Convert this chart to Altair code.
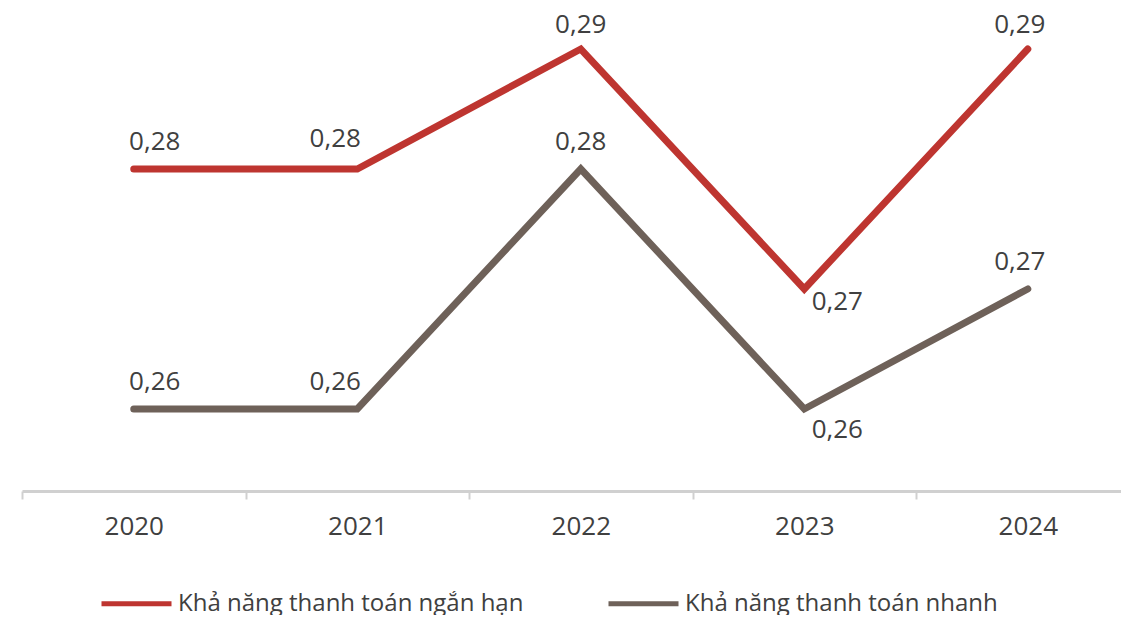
import altair as alt
import pandas as pd

# ---- data ----
years = [2020, 2021, 2022, 2023, 2024]
series_names = ["Khả năng thanh toán ngắn hạn", "Khả năng thanh toán nhanh"]
short_term = [0.28, 0.28, 0.29, 0.27, 0.29]
quick = [0.26, 0.26, 0.28, 0.26, 0.27]
colors = ["#BE3530", "#6E6159"]

df = pd.DataFrame({
    "year": years * 2,
    "series": [series_names[0]] * len(years) + [series_names[1]] * len(years),
    "value": short_term + quick,
})

# ---- layout ----
W, H = 1099, 471
x_dom = [2019.5, 2024.417]
y_dom = [0.253167, 0.292417]
px_x = W / (x_dom[1] - x_dom[0])     # pixels per year
px_y = H / (y_dom[1] - y_dom[0])     # pixels per unit

xscale = alt.Scale(domain=x_dom, nice=False, zero=False)
yscale = alt.Scale(domain=y_dom, nice=False, zero=False)

tick_vals = sorted([y - 0.5 for y in years] + years)

x_axis = alt.Axis(
    values=tick_vals, title=None, grid=False,
    domainColor="#D0D0D0", domainWidth=3,
    tickColor="#D0D0D0", tickWidth=2, tickSize=8,
    tickOpacity={"condition": {"test": "datum.value % 1 === 0", "value": 0}, "value": 1},
    labelExpr="datum.value % 1 === 0 ? format(datum.value, 'd') : ''",
    labelFont="Open Sans", labelFontSize=26, labelColor="#404040",
    labelPadding=14, labelOverlap=False, labelFlush=False, labelBound=False,
)

s0 = series_names[0]
dx_expr = ("(datum.year == 2020 ? 21 : datum.year == 2021 ? -22 : "
           "datum.year == 2023 ? 33 : datum.year == 2024 ? -8 : 0)")
dy_expr = ("(datum.year == 2023 ? (datum.series == '%s' ? 13 : 21) : "
           "(datum.year == 2021 && datum.series == '%s') ? -30 : "
           "(datum.value >= 0.29) ? -24 : -27)") % (s0, s0)

lines = alt.Chart(df).mark_line(
    strokeWidth=7, strokeCap="round", strokeJoin="miter"
).encode(
    x=alt.X("year:Q", scale=xscale, axis=x_axis),
    y=alt.Y("value:Q", scale=yscale, axis=None),
    color=alt.Color(
        "series:N",
        scale=alt.Scale(domain=series_names, range=colors),
        legend=alt.Legend(
            orient="none", legendX=77, legendY=546, direction="horizontal",
            title=None, symbolType="stroke", symbolSize=4900, symbolStrokeWidth=5,
            labelFont="Open Sans", labelFontSize=24, labelColor="#404040",
            labelOffset=4, columnPadding=74, padding=0, labelLimit=700,
        ),
    ),
)

labels = alt.Chart(df).transform_calculate(
    lx="datum.year + %s / %f" % (dx_expr, px_x),
    ly="datum.value - %s / %f" % (dy_expr, px_y),
    txt="replace(format(datum.value, '.2f'), '.', ',')",
).mark_text(
    font="Open Sans", fontSize=26, color="#404040", baseline="middle", align="center"
).encode(
    x=alt.X("lx:Q", scale=xscale, axis=x_axis),
    y=alt.Y("ly:Q", scale=yscale, axis=None),
    text="txt:N",
)

chart = alt.layer(lines, labels).properties(
    width=W, height=H,
    padding={"left": 14, "top": 12, "right": 0, "bottom": 124},
    autosize=alt.AutoSizeParams(type="none"),
).configure_view(stroke=None)

chart.save("out.html", embed_options={"renderer": "svg", "actions": False})
